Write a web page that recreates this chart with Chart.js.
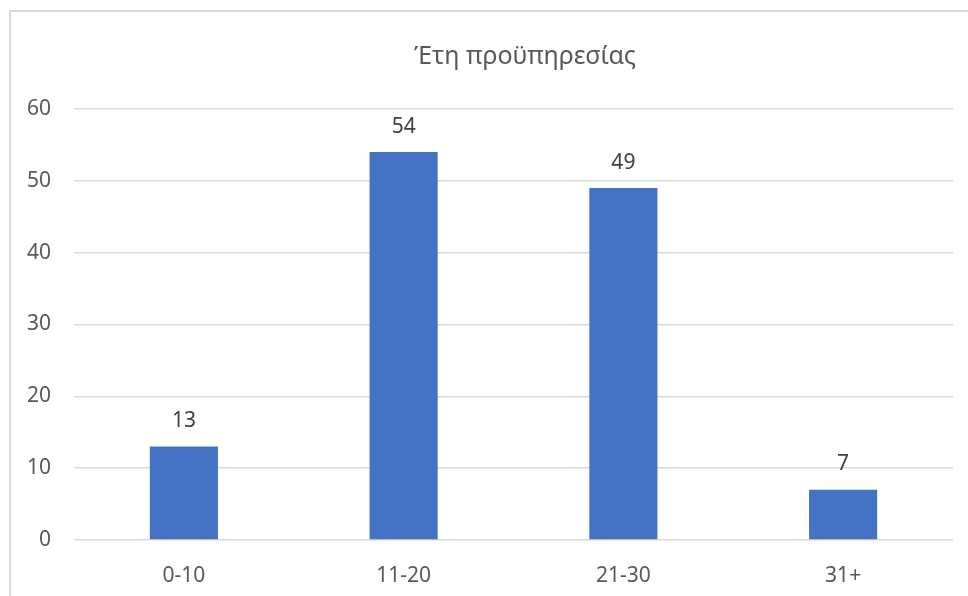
<!DOCTYPE html>
<html>
<head>
<meta charset="utf-8">
<script src="https://cdn.jsdelivr.net/npm/chart.js@4"></script>
<style>
    html, body { margin: 0; padding: 0; background: #fff; overflow: hidden; }
    #wrap { position: relative; width: 968px; height: 596px; }
    #frame {
        position: absolute; left: 9px; top: 10px; width: 1200px; height: 900px;
        border-left: 2px solid #d9d9d9; border-top: 2px solid #d9d9d9;
        pointer-events: none;
    }
</style>
</head>
<body>
<div id="wrap">
    <canvas id="myChart" width="968" height="596"></canvas>
    <div id="frame"></div>
</div>
<script>
const chartTitle = 'Έτη προϋπηρεσίας';
const categories = ['0-10', '11-20', '21-30', '31+'];
const values = [13, 54, 49, 7];
const yMax = 60;
const yStep = 10;

const textColor = '#595959';
const fontFamily = '"Noto Sans", "Open Sans", sans-serif';

// simple value labels above each bar (no datalabels plugin available)
const valueLabels = {
    id: 'valueLabels',
    afterLayout(chart) {
        // the original title sits centred on the full (cropped) chart frame
        const tb = chart.titleBlock;
        const shift = 525 - (tb.left + tb.right) / 2;
        tb.left += shift;
        tb.right += shift;
    },
    afterDatasetsDraw(chart) {
        const ctx = chart.ctx;
        const meta = chart.getDatasetMeta(0);
        ctx.save();
        ctx.font = '21px ' + fontFamily;
        ctx.fillStyle = '#404040';
        ctx.textAlign = 'center';
        ctx.textBaseline = 'middle';
        meta.data.forEach((bar, i) => {
            ctx.fillText(String(values[i]), bar.x, bar.y - 25.5);
        });
        ctx.restore();
    }
};

const ctx = document.getElementById('myChart').getContext('2d');
const myChart = new Chart(ctx, {
    type: 'bar',
    data: {
        labels: categories,
        datasets: [{
            label: chartTitle,
            data: values,
            backgroundColor: '#4472C4',
            borderWidth: 0,
            categoryPercentage: 1,
            barPercentage: 0.31
        }]
    },
    options: {
        responsive: false,
        animation: false,
        layout: {
            padding: { left: 4, right: 15, top: 8, bottom: 0 }
        },
        plugins: {
            legend: { display: false },
            tooltip: { enabled: false },
            title: {
                display: true,
                text: chartTitle,
                color: textColor,
                font: { family: fontFamily, size: 25, weight: 'normal' },
                padding: { top: 34, bottom: 37 }
            }
        },
        scales: {
            x: {
                grid: { display: false, drawTicks: false },
                border: { display: false },
                ticks: {
                    color: textColor,
                    font: { family: fontFamily, size: 21 },
                    padding: 23
                },
                afterFit(scale) {
                    scale.height = 56;
                }
            },
            y: {
                min: 0,
                max: yMax,
                grid: { color: '#d9d9d9', lineWidth: 1.5, drawTicks: false },
                border: { display: false },
                ticks: {
                    stepSize: yStep,
                    color: textColor,
                    font: { family: fontFamily, size: 21 },
                    padding: 23
                }
            }
        }
    },
    plugins: [valueLabels]
});
</script>
</body>
</html>
